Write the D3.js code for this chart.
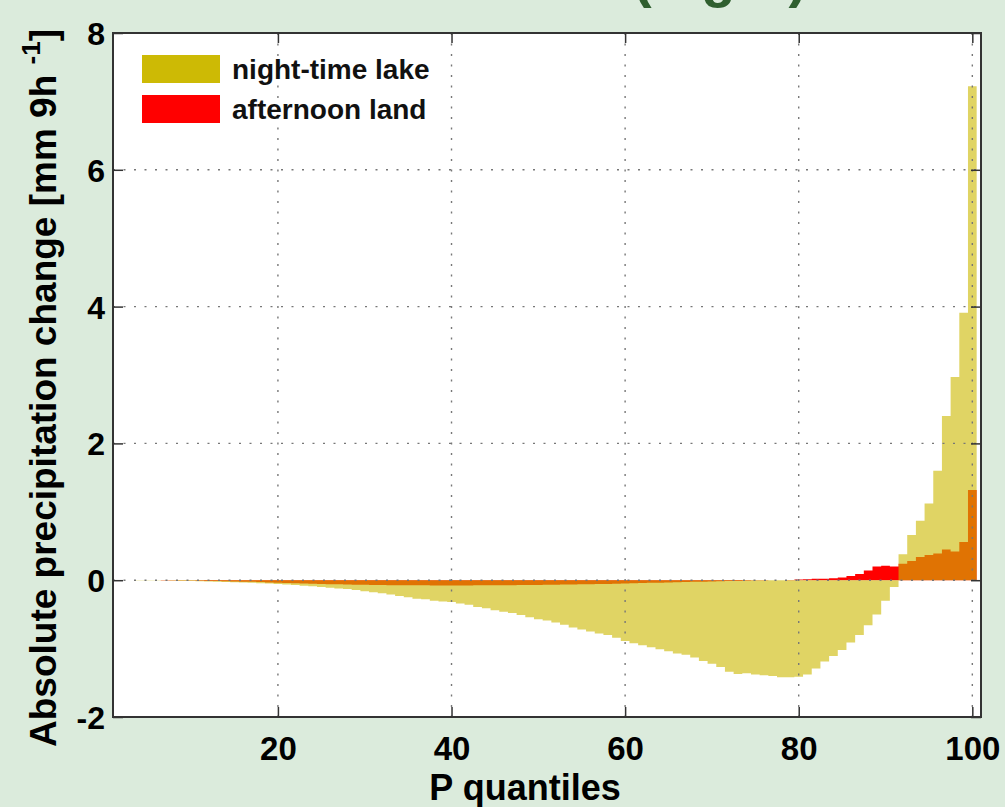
<!DOCTYPE html>
<html>
<head>
<meta charset="utf-8">
<script src="https://cdn.jsdelivr.net/npm/d3@7"></script>
<style>
  body { margin: 0; background: #dbebdc; }
  svg { display: block; font-family: "Liberation Sans", Arial, sans-serif; font-weight: bold; }
</style>
</head>
<body>
<svg id="chart" width="1005" height="807"></svg>
<script>
// quantile bins 1..100
const quantiles = d3.range(1, 101);

// night-time lake change, one value per quantile
const nightLake = [
  0, 0, -0.002, -0.003, -0.004, -0.005, -0.006, -0.008, -0.010, -0.012,
  -0.015, -0.018, -0.021, -0.025, -0.030, -0.034, -0.039, -0.045, -0.050, -0.056,
  -0.063, -0.070, -0.080, -0.090, -0.100, -0.110, -0.120, -0.130, -0.145, -0.160,
  -0.175, -0.190, -0.210, -0.230, -0.250, -0.270, -0.280, -0.300, -0.310, -0.320,
  -0.340, -0.360, -0.390, -0.410, -0.440, -0.460, -0.480, -0.510, -0.540, -0.570,
  -0.590, -0.620, -0.650, -0.690, -0.720, -0.750, -0.780, -0.800, -0.840, -0.890,
  -0.920, -0.950, -0.980, -1.010, -1.040, -1.070, -1.090, -1.130, -1.180, -1.220,
  -1.270, -1.340, -1.370, -1.360, -1.380, -1.390, -1.400, -1.420, -1.420, -1.410,
  -1.380, -1.290, -1.190, -1.110, -1.020, -0.910, -0.800, -0.660, -0.500, -0.300,
  -0.100, 0.380, 0.660, 0.870, 1.120, 1.600, 2.400, 2.970, 3.910, 7.220
];

// afternoon land change
const afternoonLand = [
  0, 0, -0.001, -0.001, -0.002, -0.002, -0.003, -0.004, -0.005, -0.006,
  -0.008, -0.010, -0.012, -0.015, -0.018, -0.021, -0.024, -0.028, -0.032, -0.036,
  -0.040, -0.044, -0.048, -0.052, -0.055, -0.058, -0.061, -0.064, -0.066, -0.068,
  -0.070, -0.071, -0.072, -0.073, -0.074, -0.075, -0.075, -0.076, -0.076, -0.076,
  -0.076, -0.076, -0.075, -0.075, -0.074, -0.073, -0.072, -0.071, -0.070, -0.069,
  -0.068, -0.066, -0.064, -0.062, -0.060, -0.058, -0.056, -0.054, -0.051, -0.048,
  -0.045, -0.042, -0.039, -0.036, -0.033, -0.030, -0.027, -0.024, -0.021, -0.018,
  -0.015, -0.012, -0.010, -0.008, -0.006, -0.004, -0.002, 0.000, 0.003, 0.010,
  0.015, 0.020, 0.020, 0.030, 0.040, 0.060, 0.090, 0.140, 0.200, 0.210,
  0.200, 0.240, 0.280, 0.340, 0.370, 0.390, 0.450, 0.420, 0.560, 1.320
];

const xTicks = [20, 40, 60, 80, 100];
const yTicks = [-2, 0, 2, 4, 6, 8];
const seriesNames = ["night-time lake", "afternoon land"];
const seriesColors = ["#cdba05", "#ff0000"];

let margin = {top: 33, left: 113, right: 24, bottom: 90},
    width = 1005 - margin.left - margin.right,
    height = 807 - margin.top - margin.bottom;

let x = d3.scaleLinear().domain([1, 101]).range([0, width]);
let y = d3.scaleLinear().domain([-2, 8]).range([height, 0]);

let svg = d3.select("#chart");

// partially visible title at the very top
svg.append("text")
    .attr("x", 720).attr("y", -4)
    .attr("text-anchor", "middle")
    .attr("font-size", 56)
    .attr("fill", "#2f5f2f")
    .text("(night)");

let g = svg.append("g")
    .attr("transform", "translate(" + margin.left + "," + margin.top + ")");

g.append("rect").attr("width", width).attr("height", height).attr("fill", "#fff");

// bars as one stepped area, bin i covers [i-0.5, i+0.5] (no seams between bins)
let area = d3.area()
    .x(d => x(d[0]))
    .y0(y(0))
    .y1(d => y(d[1]));

function bars(values, color, opacity) {
    let pts = [];
    quantiles.forEach((q, i) => {
        pts.push([q - 0.5, values[i]]);
        pts.push([q + 0.5, values[i]]);
    });
    g.append("path")
        .datum(pts)
        .attr("d", area)
        .attr("fill", color)
        .attr("fill-opacity", opacity);
}
bars(afternoonLand, seriesColors[1], 1);
bars(nightLake, seriesColors[0], 0.62);

// grid on top (matlab layer top)
g.selectAll("line.vgrid").data(xTicks).enter().append("line")
    .attr("x1", d => x(d)).attr("x2", d => x(d))
    .attr("y1", 0).attr("y2", height)
    .attr("stroke", "#777").attr("stroke-width", 1.4)
    .attr("stroke-dasharray", "2,8.5");
g.selectAll("line.hgrid").data(yTicks.filter(d => d > -2 && d < 8)).enter().append("line")
    .attr("x1", 0).attr("x2", width)
    .attr("y1", d => y(d)).attr("y2", d => y(d))
    .attr("stroke", "#777").attr("stroke-width", 1.4)
    .attr("stroke-dasharray", "2,8.5");

// axes with inward ticks, plain hyphen for negatives like the original
let fmt = d => String(d);
let xAxis = d3.axisBottom(x).tickValues(xTicks).tickFormat(fmt).tickSizeInner(-10).tickSizeOuter(0).tickPadding(20);
let yAxis = d3.axisLeft(y).tickValues(yTicks).tickFormat(fmt).tickSizeInner(-10).tickSizeOuter(0).tickPadding(8);

let gx = g.append("g").attr("transform", "translate(0," + height + ")").call(xAxis);
let gy = g.append("g").call(yAxis);
g.append("g").call(d3.axisTop(x).tickValues(xTicks).tickSizeInner(-10).tickSizeOuter(0).tickFormat(""));
g.append("g").attr("transform", "translate(" + width + ",0)")
    .call(d3.axisRight(y).tickValues(yTicks).tickSizeInner(-10).tickSizeOuter(0).tickFormat(""));

g.selectAll(".domain").remove();
g.selectAll(".tick line").attr("stroke", "#333").attr("stroke-width", 1.5);
gx.selectAll("text").attr("font-size", 33).attr("font-weight", "bold").attr("fill", "#000")
    .attr("font-family", "Liberation Sans, Arial, sans-serif");
gy.selectAll("text").attr("font-size", 32).attr("font-weight", "bold").attr("fill", "#000")
    .attr("font-family", "Liberation Sans, Arial, sans-serif").attr("dy", "0.36em");

g.append("rect").attr("width", width).attr("height", height)
    .attr("fill", "none").attr("stroke", "#333").attr("stroke-width", 2);

// axis titles
svg.append("text")
    .attr("x", margin.left + width / 2 - 22).attr("y", 800)
    .attr("text-anchor", "middle").attr("font-size", 36)
    .text("P quantiles");

let yt = svg.append("text")
    .attr("transform", "translate(56,388) rotate(-90)")
    .attr("text-anchor", "middle").attr("font-size", 37);
yt.append("tspan").text("Absolute precipitation change [mm 9h ");
yt.append("tspan").attr("font-size", 26).attr("dy", -16).text("-1");
yt.append("tspan").attr("dy", 16).text("]");

// legend
let legend = g.append("g").attr("transform", "translate(29,22)");
seriesNames.forEach((name, i) => {
    legend.append("rect").attr("x", 0).attr("y", i * 40)
        .attr("width", 78).attr("height", 28).attr("fill", seriesColors[i]);
    legend.append("text").attr("x", 90).attr("y", i * 40 + 24)
        .attr("font-size", 28).attr("fill", "#111").text(name);
});
</script>
</body>
</html>
